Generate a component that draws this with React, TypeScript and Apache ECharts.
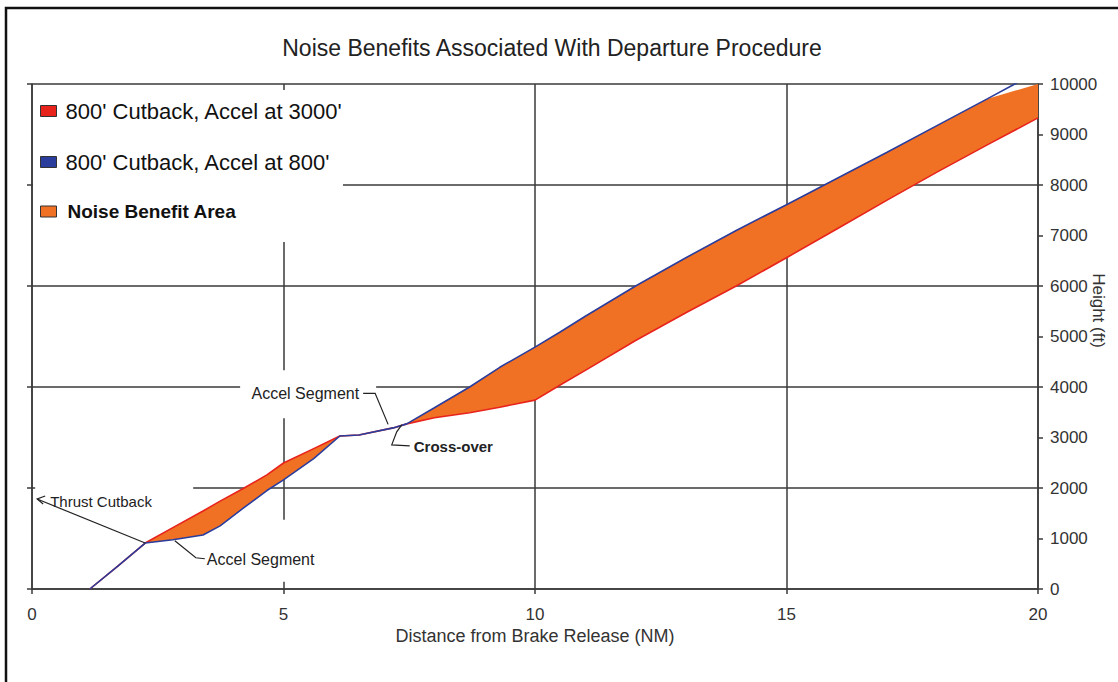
import React, { useEffect, useRef } from "react";
import * as echarts from "echarts";

// ---- data ----
const distanceNM = [
  1.15, 1.7, 2.25, 2.8, 3.4, 3.74, 4.2, 4.67, 5.0, 5.6, 6.12, 6.5, 7.18, 7.45,
  8.0, 8.7, 9.3, 10.0, 10.5, 11, 12, 13, 14, 15, 16, 17, 18, 19, 20,
];
// 800' Cutback, Accel at 3000'
const heightAccel3000 = [
  0, 450, 910, 1215, 1545, 1740, 1990, 2260, 2495, 2780, 3030, 3050, 3190, 3270,
  3390, 3490, 3600, 3740, 4040, 4330, 4920, 5470, 6000, 6560, 7130, 7700, 8260, 8800, 9330,
];
// 800' Cutback, Accel at 800'
const heightAccel800 = [
  0, 450, 910, 975, 1070, 1250, 1600, 1950, 2160, 2580, 3030, 3050, 3190, 3270,
  3590, 4000, 4390, 4790, 5090, 5400, 6000, 6560, 7100, 7610, 8130, 8650, 9180, 9710, 10250,
];
const seriesNames = [
  "800' Cutback, Accel at 3000'",
  "800' Cutback, Accel at 800'",
  "Noise Benefit Area",
];
const xMin = 0, xMax = 20, xStep = 5;
const yMin = 0, yMax = 10000, yLabelStep = 1000, yGridStep = 2000;

// annotation anchor points (data coordinates)
const thrustCutbackPt = [2.25, 910];
const lowerAccelPt = [2.8, 975];
const upperAccelPt = [7.08, 3260];
const crossOverPt = [7.45, 3270];

const FONT = "'Liberation Sans', Arial, Helvetica, sans-serif";
const RED = "#e8231c";
const BLUE = "#2b3d9c";
const ORANGE = "#f07124";
const GRID = "#3a3a3a";
const TXT = "#222";
const PLOT_LEFT = 32, PLOT_RIGHT = 1038, PLOT_TOP = 84, PLOT_BOTTOM = 589;

export default function App() {
  const ref = useRef<HTMLDivElement>(null);
  useEffect(() => {
    const el = ref.current!;
    const chart = echarts.init(el, null, { renderer: "svg" });
    const W = chart.getWidth();
    const H = chart.getHeight();
    const red = distanceNM.map((x, i) => [x, heightAccel3000[i]]);
    const blue = distanceNM.map((x, i) => [x, heightAccel800[i]]);
    const axisLabel = {
      fontFamily: FONT,
      fontSize: 17,
      color: "#333",
      formatter: (v: number) => String(v),
    };
    const axisLine = { show: true, onZero: false, lineStyle: { color: GRID, width: 1.5 } };
    const axisTick = { show: true, length: 5, lineStyle: { color: GRID, width: 1.5 } };
    chart.setOption({
      animation: false,
      backgroundColor: "#fff",
      title: {
        text: "Noise Benefits Associated With Departure Procedure",
        left: 547,
        top: 31,
        textAlign: "center",
        textStyle: { fontFamily: FONT, fontSize: 23, fontWeight: "normal", color: TXT },
      },
      legend: {
        orient: "vertical",
        left: 40,
        top: 100,
        padding: 0,
        itemWidth: 16,
        itemHeight: 11,
        itemGap: 29,
        icon: "rect",
        selectedMode: false,
        textStyle: { fontFamily: FONT, fontSize: 22, color: "#111", padding: [0, 0, 0, 4] },
        data: [
          { name: seriesNames[0], itemStyle: { borderColor: "#333", borderWidth: 1 } },
          { name: seriesNames[1], itemStyle: { borderColor: "#333", borderWidth: 1 } },
          {
            name: seriesNames[2],
            itemStyle: { color: ORANGE, borderColor: "#333", borderWidth: 1 },
            textStyle: { fontSize: 19, fontWeight: "bold", padding: [0, 0, 0, 6] },
          },
        ],
      },
      grid: {
        left: PLOT_LEFT,
        right: W - PLOT_RIGHT,
        top: PLOT_TOP,
        bottom: H - PLOT_BOTTOM,
        containLabel: false,
        outerBoundsMode: "none",
      },
      xAxis: {
        type: "value",
        min: xMin,
        max: xMax,
        interval: xStep,
        name: "Distance from Brake Release (NM)",
        nameLocation: "middle",
        nameGap: 38,
        nameMoveOverlap: false,
        nameTextStyle: { fontFamily: FONT, fontSize: 18, color: "#333" },
        axisLine,
        axisTick,
        axisLabel: { ...axisLabel, margin: 17 },
        splitLine: { show: true, lineStyle: { color: GRID, width: 1.5 } },
      },
      yAxis: [
        {
          type: "value",
          position: "right",
          min: yMin,
          max: yMax,
          interval: yLabelStep,
          name: "Height (ft)",
          nameLocation: "middle",
          nameRotate: -90,
          nameGap: 52,
          nameMoveOverlap: false,
          nameTextStyle: { fontFamily: FONT, fontSize: 17, color: "#333", padding: [0, 52, 0, 0] },
          axisLine,
          axisTick,
          axisLabel: { ...axisLabel, margin: 12 },
          splitLine: { show: false },
        },
        {
          type: "value",
          position: "left",
          min: yMin,
          max: yMax,
          interval: yGridStep,
          axisLine,
          axisTick,
          axisLabel: { show: false },
          splitLine: { show: true, lineStyle: { color: GRID, width: 1.5 } },
        },
      ],
      series: [
        {
          name: seriesNames[2],
          type: "custom",
          clip: true,
          silent: true,
          color: ORANGE,
          itemStyle: { color: ORANGE },
          data: [[xMin, yMin]],
          z: 2,
          renderItem: (params: any, api: any) => {
            const upper = red.map((p) => api.coord(p));
            const lower = blue.map((p) => api.coord(p)).reverse();
            const cs = params.coordSys;
            const pts = echarts.graphic.clipPointsByRect(upper.concat(lower), {
              x: cs.x,
              y: cs.y,
              width: cs.width,
              height: cs.height,
            });
            return {
              type: "polygon",
              shape: { points: pts },
              style: { fill: ORANGE, stroke: "none" },
            };
          },
        },
        {
          name: seriesNames[0],
          type: "line",
          data: red,
          symbol: "none",
          color: RED,
          lineStyle: { color: RED, width: 1.6 },
          z: 3,
        },
        {
          name: seriesNames[1],
          type: "line",
          data: blue,
          symbol: "none",
          color: BLUE,
          lineStyle: { color: BLUE, width: 1.6 },
          z: 4,
        },
      ],
    });

    const px = (p: number[]) =>
      chart.convertToPixel({ xAxisIndex: 0, yAxisIndex: 0 }, p) as number[];
    const T = px(thrustCutbackPt);
    const L = px(lowerAccelPt);
    const U = px(upperAccelPt);
    const C = px(crossOverPt);
    const white = { fill: "#fff" };
    const ink = { stroke: TXT, lineWidth: 1.2, fill: "none" };
    const txt = (x: number, y: number, text: string, size: number, align: string, bold = false) => ({
      type: "text",
      x,
      y,
      z: 10,
      style: {
        text,
        fontFamily: FONT,
        fontSize: size,
        fontWeight: bold ? "bold" : "normal",
        fill: TXT,
        align,
        textAlign: align,
        verticalAlign: "middle",
        textVerticalAlign: "middle",
      },
    });

    chart.setOption({
      graphic: {
        elements: [
          // white backgrounds that hide the grid lines
          { type: "rect", z: 1, shape: { x: 33, y: 90, width: 310, height: 152 }, style: white },
          { type: "rect", z: 1, shape: { x: T[0] - 110, y: T[1] - 63, width: 158, height: 32 }, style: white },
          { type: "rect", z: 1, shape: { x: L[0] + 27, y: L[1] - 20, width: 118, height: 62 }, style: white },
          { type: "rect", z: 1, shape: { x: U[0] - 148, y: U[1] - 54, width: 136, height: 48 }, style: white },
          // Thrust Cutback
          { type: "line", z: 10, shape: { x1: T[0], y1: T[1], x2: T[0] - 108, y2: T[1] - 44 }, style: ink },
          {
            type: "polyline",
            z: 10,
            shape: { points: [[T[0] - 100, T[1] - 47], [T[0] - 108, T[1] - 44], [T[0] - 102, T[1] - 39]] },
            style: ink,
          },
          txt(T[0] - 95, T[1] - 42, "Thrust Cutback", 15, "left"),
          // lower Accel Segment
          {
            type: "polyline",
            z: 10,
            shape: { points: [[L[0] + 2, L[1] + 1], [L[0] + 23, L[1] + 18], [L[0] + 32, L[1] + 19]] },
            style: ink,
          },
          txt(L[0] + 34, L[1] + 20, "Accel Segment", 16, "left"),
          // upper Accel Segment
          {
            type: "polyline",
            z: 10,
            shape: { points: [[U[0] - 25, U[1] - 31], [U[0] - 13, U[1] - 31], [U[0], U[1]]] },
            style: ink,
          },
          txt(U[0] - 29, U[1] - 31, "Accel Segment", 16, "right"),
          // Cross-over
          {
            type: "polyline",
            z: 10,
            shape: {
              points: [[C[0] - 5, C[1] + 1], [C[0] - 10, C[1] + 8], [C[0] - 15, C[1] + 21], [C[0] + 3, C[1] + 22]],
            },
            style: ink,
          },
          txt(C[0] + 7, C[1] + 23, "Cross-over", 15, "left", true),
          // outer frame
          {
            type: "rect",
            z: 20,
            shape: { x: 6, y: 8, width: 1130, height: 700 },
            style: { fill: "none", stroke: "#111", lineWidth: 2.5 },
          },
        ],
      },
    });
    return () => chart.dispose();
  }, []);
  return (
    <div
      ref={ref}
      style={{ position: "fixed", left: 0, top: 0, width: 1118, height: 682, background: "#fff" }}
    />
  );
}
